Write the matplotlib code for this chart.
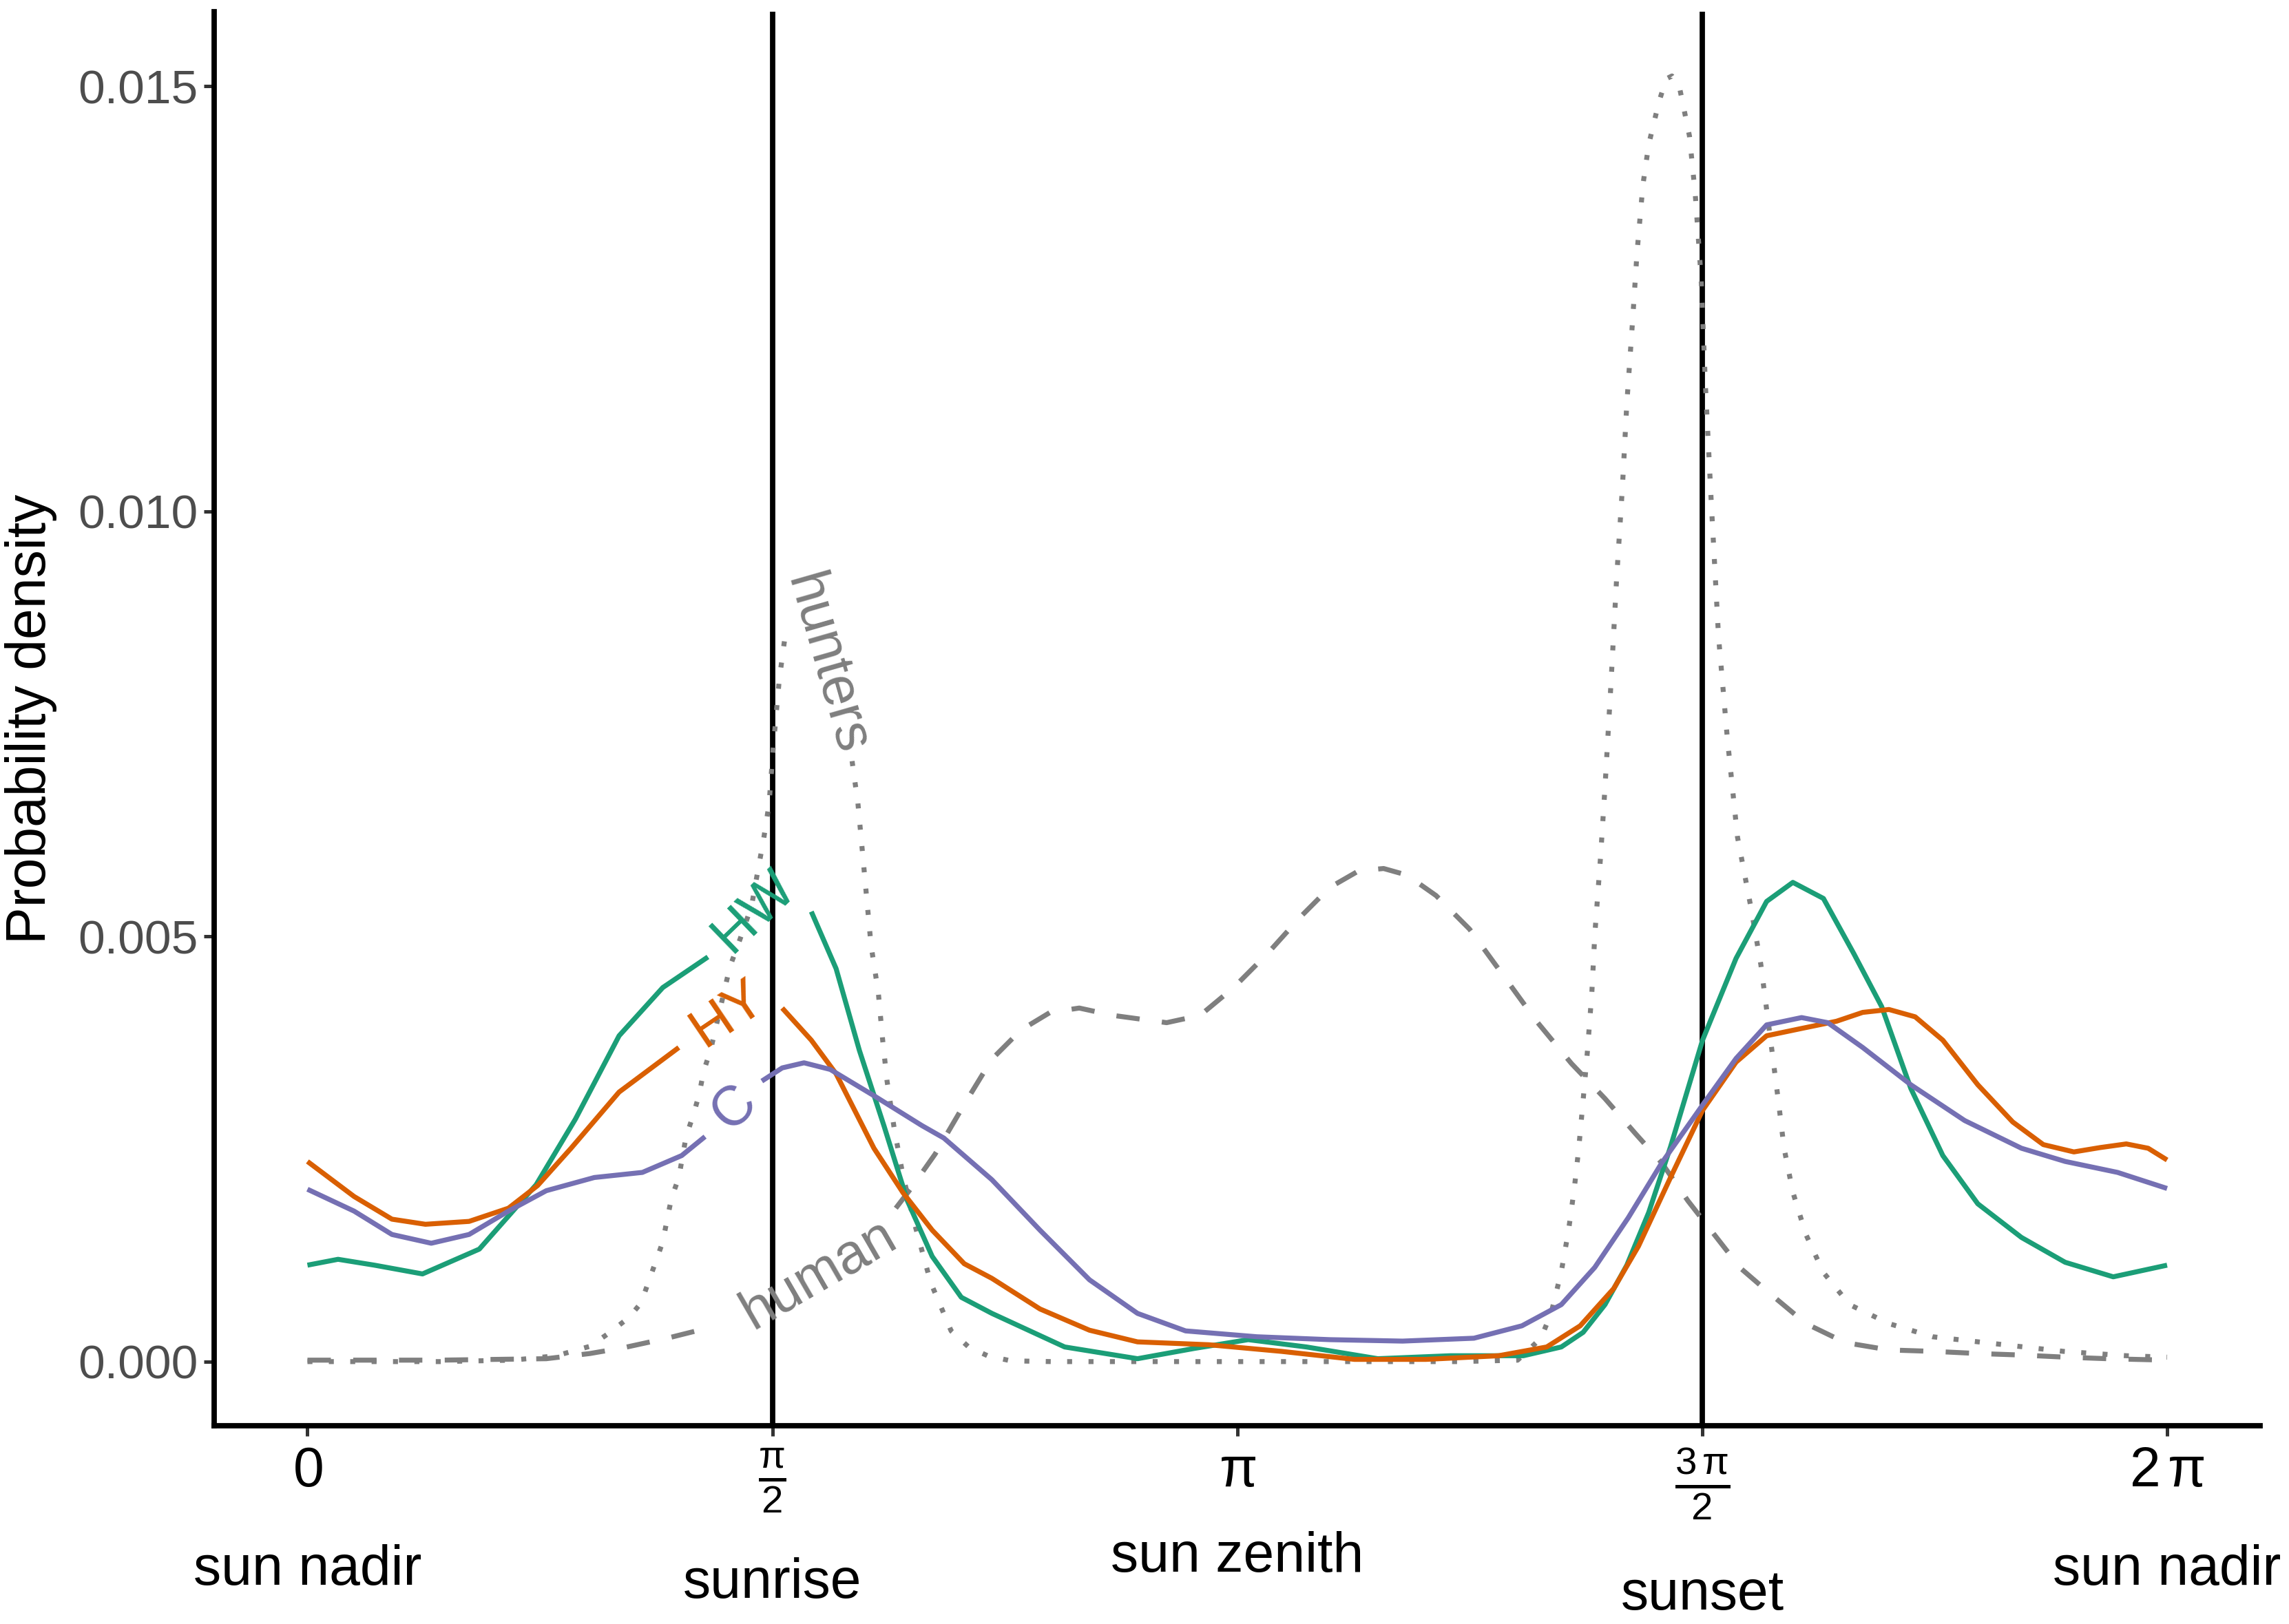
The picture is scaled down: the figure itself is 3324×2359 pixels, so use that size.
import numpy as np
import matplotlib.pyplot as plt
from matplotlib.transforms import blended_transform_factory

plt.rcParams['font.family'] = ['Liberation Sans', 'DejaVu Sans']
plt.rcParams['mathtext.fontset'] = 'custom'
plt.rcParams['mathtext.rm'] = 'Liberation Sans'
plt.rcParams['mathtext.it'] = 'Liberation Sans'

# sun angle (radians) and probability density
hw_x = np.array([0, 0.1033, 0.2263, 0.3887, 0.5806, 0.7724, 0.9053, 1.0529, 1.2005, 1.3530,
                 1.4317, 1.5055, 1.5793, 1.6531, 1.7023, 1.7860, 1.8647, 1.9484, 2.0271, 2.1107,
                 2.2091, 2.3124, 2.5584, 2.8044, 2.9963, 3.1784, 3.3752, 3.6162, 3.8622, 4.1082,
                 4.2362, 4.3100, 4.3838, 4.4576, 4.5314, 4.6052, 4.7134, 4.8266, 4.9299, 5.0185,
                 5.1218, 5.2251, 5.3186, 5.4170, 5.5252, 5.6433, 5.7909, 5.9385, 6.1009, 6.2829])
hw_y = np.array([1.134, 1.203, 1.134, 1.031, 1.323, 2.079, 2.852, 3.832, 4.399, 4.759,
                 5.000, 5.275, 5.481, 5.498, 5.292, 4.622, 3.660, 2.766, 1.890, 1.237,
                 0.756, 0.567, 0.172, 0.034, 0.155, 0.258, 0.172, 0.034, 0.069, 0.069,
                 0.172, 0.344, 0.670, 1.134, 1.753, 2.526, 3.780, 4.742, 5.412, 5.636,
                 5.447, 4.794, 4.175, 3.213, 2.423, 1.856, 1.460, 1.168, 0.997, 1.134]) / 1000

hy_x = np.array([0, 0.1574, 0.2854, 0.3985, 0.5461, 0.6790, 0.7774, 0.8905, 1.0529, 1.2546,
                 1.3333, 1.4317, 1.5203, 1.6039, 1.7023, 1.7860, 1.9139, 2.0123, 2.1107, 2.2190,
                 2.3124, 2.4748, 2.6421, 2.8044, 3.0455, 3.2915, 3.5375, 3.7786, 4.0246, 4.1870,
                 4.3001, 4.4133, 4.4969, 4.6052, 4.7134, 4.8266, 4.9299, 5.0480, 5.1661, 5.2546,
                 5.3432, 5.4317, 5.5252, 5.6433, 5.7614, 5.8647, 5.9680, 6.0566, 6.1451, 6.2189,
                 6.2829])
hy_y = np.array([2.354, 1.942, 1.675, 1.615, 1.649, 1.804, 2.070, 2.509, 3.170, 3.694,
                 3.900, 4.107, 4.218, 4.158, 3.780, 3.385, 2.509, 1.985, 1.546, 1.151,
                 0.979, 0.619, 0.369, 0.232, 0.198, 0.120, 0.026, 0.026, 0.069, 0.172,
                 0.421, 0.859, 1.357, 2.165, 2.955, 3.522, 3.832, 3.918, 4.003, 4.107,
                 4.141, 4.055, 3.780, 3.256, 2.818, 2.552, 2.466, 2.517, 2.560, 2.509,
                 2.371]) / 1000

c_x = np.array([0, 0.1574, 0.2854, 0.4182, 0.5461, 0.6790, 0.8069, 0.9692, 1.1316, 1.2644,
                1.3432, 1.4317, 1.5351, 1.6039, 1.6777, 1.7663, 1.9139, 2.0763, 2.1501, 2.3124,
                2.4748, 2.6421, 2.8044, 2.9668, 3.2079, 3.4539, 3.6999, 3.9410, 4.1033, 4.2362,
                4.3493, 4.4625, 4.5756, 4.7183, 4.8266, 4.9299, 5.0480, 5.1365, 5.2546, 5.4170,
                5.5990, 5.7909, 5.9385, 6.1156, 6.2829])
c_y = np.array([2.027, 1.770, 1.495, 1.392, 1.495, 1.770, 2.010, 2.165, 2.225, 2.423,
                2.646, 2.955, 3.299, 3.454, 3.514, 3.436, 3.127, 2.775, 2.629, 2.139,
                1.546, 0.962, 0.567, 0.361, 0.292, 0.258, 0.241, 0.275, 0.421, 0.670,
                1.108, 1.692, 2.337, 3.041, 3.565, 3.960, 4.046, 3.986, 3.694, 3.256,
                2.835, 2.509, 2.354, 2.225, 2.036]) / 1000

hunters_x = np.array([0, 0.4477, 0.6937, 0.8413, 0.9545, 1.0185, 1.0849, 1.1267, 1.1513, 1.1759,
                      1.2005, 1.2153, 1.2300, 1.2546, 1.2792, 1.3038, 1.3235, 1.3383, 1.3629, 1.4268,
                      1.4613, 1.5006, 1.5252, 1.5400, 1.5597, 1.5744, 1.5941, 1.6187, 1.6482, 1.6876,
                      1.7515, 1.8007, 1.8401, 1.8598, 1.8745, 1.8893, 1.9041, 1.9287, 1.9434, 1.9582,
                      1.9828, 2.0123, 2.0517, 2.1058, 2.1747, 2.2337, 2.2977, 2.3764, 2.5141, 3.3014,
                      3.8918, 4.0886, 4.1673, 4.2017, 4.2362, 4.2608, 4.2804, 4.2952, 4.3100, 4.3247,
                      4.3395, 4.3493, 4.3690, 4.3838, 4.4034, 4.4231, 4.4428, 4.4576, 4.4772, 4.4920,
                      4.5117, 4.5314, 4.5658, 4.5904, 4.6101, 4.6347, 4.6691, 4.6888, 4.7085, 4.7232,
                      4.7429, 4.7675, 4.7970, 4.8315, 4.8758, 4.9102, 4.9446, 4.9692, 4.9889, 5.0185,
                      5.0627, 5.1218, 5.2103, 5.3432, 5.4908, 5.7122, 5.9336, 6.1451, 6.2829])
hunters_y = np.array([0, 0, 0.017, 0.069, 0.180, 0.335, 0.515, 0.687, 0.928, 1.168,
                      1.409, 1.675, 1.924, 2.165, 2.646, 2.904, 3.144, 3.411, 3.677, 4.639,
                      4.966, 5.361, 5.842, 6.117, 6.564, 7.251, 8.024, 8.660, 9.038, 8.969,
                      8.196, 7.595, 7.062, 6.564, 6.014, 5.455, 4.897, 4.339, 3.780, 3.299,
                      2.732, 2.182, 1.615, 0.928, 0.361, 0.172, 0.069, 0.009, 0, 0,
                      0, 0.017, 0.275, 0.567, 1.057, 1.546, 2.045, 2.509, 3.076, 3.660,
                      4.347, 5.017, 5.945, 6.753, 7.938, 9.210, 10.292, 11.271, 12.251, 13.041,
                      13.832, 14.313, 14.811, 15.086, 15.120, 15.000, 14.416, 13.729, 12.749, 11.478,
                      10.103, 8.522, 7.337, 6.168, 5.361, 4.674, 3.746, 3.076, 2.509, 1.993,
                      1.495, 1.048, 0.670, 0.447, 0.292, 0.206, 0.120, 0.069, 0.052]) / 1000

human_x = np.array([0, 0.4477, 0.8069, 0.9545, 1.0677, 1.2153, 1.3629, 1.4810, 1.6285, 1.7761,
                    1.9237, 1.9877, 2.0369, 2.1205, 2.2189, 2.3124, 2.4108, 2.5092, 2.6076, 2.7208,
                    2.9028, 3.0160, 3.1292, 3.2423, 3.3555, 3.4539, 3.5523, 3.6359, 3.7146, 3.8130,
                    3.9262, 4.0394, 4.1525, 4.2706, 4.3838, 4.4871, 4.5756, 4.6642, 4.7528, 4.8413,
                    4.9446, 5.0627, 5.1956, 5.3432, 5.4957, 5.6433, 5.7909, 5.9385, 6.0812, 6.2829])
human_y = np.array([0.017, 0.017, 0.034, 0.095, 0.163, 0.275, 0.404, 0.550, 0.808, 1.134,
                    1.495, 1.804, 2.027, 2.440, 3.024, 3.557, 3.900, 4.107, 4.158, 4.072,
                    3.986, 4.072, 4.399, 4.794, 5.232, 5.576, 5.773, 5.799, 5.722, 5.481,
                    5.086, 4.545, 4.003, 3.505, 3.093, 2.680, 2.337, 1.890, 1.495, 1.100,
                    0.790, 0.447, 0.223, 0.137, 0.120, 0.095, 0.077, 0.052, 0.034, 0.017]) / 1000

tick_pos = [0, np.pi / 2, np.pi, 3 * np.pi / 2, 2 * np.pi]
tick_labels = [r'$0$', r'$\frac{\mathrm{\pi}}{2}$', r'$\mathrm{\pi}$',
               r'$\frac{3\,\mathrm{\pi}}{2}$', r'$2\,\mathrm{\pi}$']
sun_labels = ['sun nadir', 'sunrise', 'sun zenith', 'sunset', 'sun nadir']
sun_label_y = [-0.102, -0.1115, -0.093, -0.1195, -0.102]

GREY = '#7F7F7F'
# series: x, y, colour, linestyle, label, label x, gap around label, label angle
series = [
    (human_x, human_y, GREY, 'dashed', 'human', 1.727, (1.37, 1.98), 30),
    (hunters_x, hunters_y, GREY, 'dotted', 'hunters', 1.7515, (1.63, 1.83), -74),
    (hw_x, hw_y, '#1B9E77', 'solid', 'HW', 1.51, (1.36, 1.70), 44),
    (hy_x, hy_y, '#D95F02', 'solid', 'HY', 1.42, (1.26, 1.60), 34),
    (c_x, c_y, '#7570B3', 'solid', 'C', 1.4416, (1.35, 1.53), 44),
]

fig = plt.figure(figsize=(16.62, 11.795), dpi=200)
ax = fig.add_axes([0.0937, 0.122, 0.8937, 0.8708])

ax.axvline(np.pi / 2, color='black', lw=2.8, zorder=1)
ax.axvline(3 * np.pi / 2, color='black', lw=2.8, zorder=1)

for x, y, col, ls, lab, lx, gap, rot in series:
    yy = np.where((x > gap[0]) & (x < gap[1]), np.nan, y)
    line, = ax.plot(x, yy, color=col, lw=2.6, zorder=2,
                    solid_joinstyle='round', solid_capstyle='butt')
    if ls == 'dotted':
        line.set_dashes((1, 3.3))
        line.set_dash_capstyle('butt')
    elif ls == 'dashed':
        line.set_dashes((4.7, 4.5))
        line.set_dash_capstyle('butt')
    ax.text(lx, np.interp(lx, x, y), lab, color=col, fontsize=29, rotation=rot,
            rotation_mode='anchor', ha='center', va='center', zorder=3)

span = 2 * np.pi
ax.set_xlim(-0.05 * span, 1.05 * span)
ymax = hunters_y.max()
ax.set_ylim(-0.05 * ymax, 1.05 * ymax)

ax.set_xticks(tick_pos)
ax.set_xticklabels(tick_labels, fontsize=29, color='black')
ax.set_yticks([0, 0.005, 0.010, 0.015])
ax.set_yticklabels(['0.000', '0.005', '0.010', '0.015'], fontsize=25, color='#4D4D4D')
ax.tick_params(axis='both', direction='out', length=5.5, width=1.8, color='#333333')
ax.tick_params(axis='x', pad=5)
ax.tick_params(axis='y', pad=3)

for s in ['top', 'right']:
    ax.spines[s].set_visible(False)
for s in ['left', 'bottom']:
    ax.spines[s].set_linewidth(2.8)
    ax.spines[s].set_color('black')

trans = blended_transform_factory(ax.transData, ax.transAxes)
for xp, txt, yo in zip(tick_pos, sun_labels, sun_label_y):
    ax.text(xp, yo, txt, transform=trans, fontsize=29, ha='center', va='center', clip_on=False)

ax.set_ylabel('Probability density', fontsize=29)
ax.yaxis.set_label_coords(-0.077, 0.5)

fig.savefig('out.png', dpi=200, facecolor='white')
